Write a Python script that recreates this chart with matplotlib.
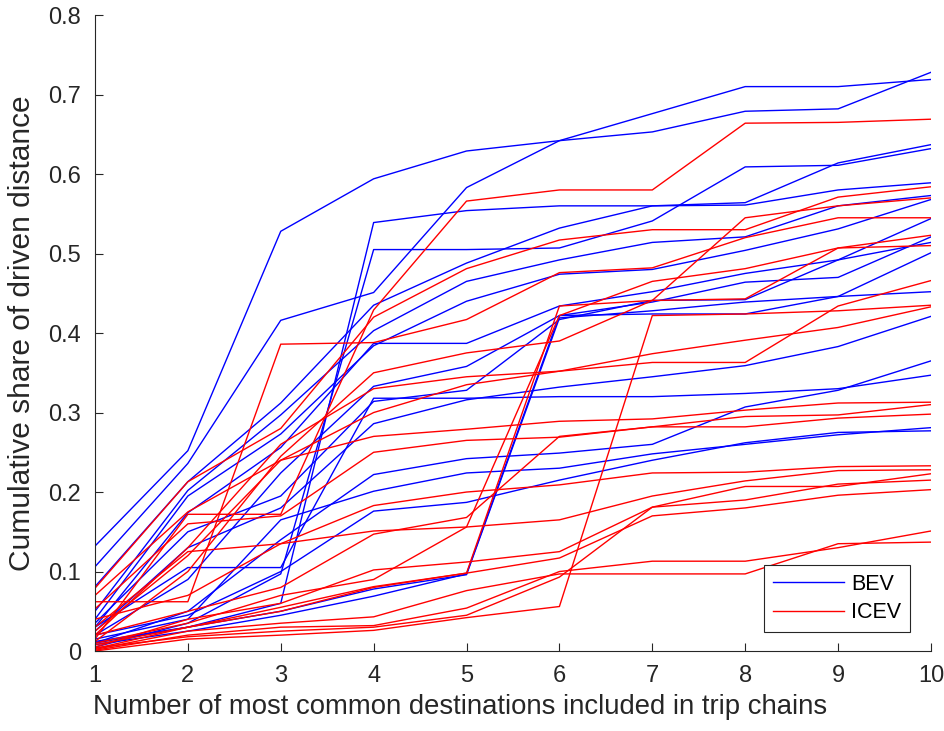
import matplotlib
matplotlib.use('agg')
import matplotlib.pyplot as plt

plt.rcParams['font.family'] = ['Liberation Sans', 'DejaVu Sans']

n_dest = [1, 2, 3, 4, 5, 6, 7, 8, 9, 10]

# cumulative share of driven distance per vehicle, battery electric
bev = [
    [0.132, 0.252, 0.528, 0.594, 0.629, 0.642, 0.653, 0.679, 0.682, 0.728],
    [0.106, 0.236, 0.416, 0.451, 0.583, 0.642, 0.676, 0.710, 0.710, 0.719],
    [0.010, 0.030, 0.060, 0.539, 0.554, 0.560, 0.560, 0.564, 0.614, 0.637],
    [0.005, 0.035, 0.097, 0.505, 0.505, 0.507, 0.541, 0.609, 0.611, 0.632],
    [0.081, 0.213, 0.312, 0.435, 0.488, 0.532, 0.560, 0.561, 0.580, 0.589],
    [0.050, 0.202, 0.297, 0.403, 0.465, 0.492, 0.514, 0.521, 0.560, 0.573],
    [0.040, 0.195, 0.273, 0.384, 0.440, 0.474, 0.480, 0.504, 0.531, 0.568],
    [0.030, 0.174, 0.256, 0.387, 0.387, 0.434, 0.452, 0.475, 0.492, 0.544],
    [0.020, 0.090, 0.224, 0.333, 0.358, 0.422, 0.439, 0.464, 0.470, 0.521],
    [0.035, 0.150, 0.195, 0.314, 0.328, 0.417, 0.441, 0.442, 0.492, 0.514],
    [0.012, 0.030, 0.050, 0.078, 0.096, 0.419, 0.428, 0.439, 0.446, 0.501],
    [0.008, 0.025, 0.045, 0.069, 0.097, 0.422, 0.424, 0.424, 0.446, 0.452],
    [0.025, 0.130, 0.180, 0.286, 0.316, 0.332, 0.345, 0.359, 0.383, 0.421],
    [0.030, 0.105, 0.105, 0.318, 0.318, 0.320, 0.320, 0.324, 0.330, 0.347],
    [0.010, 0.050, 0.140, 0.222, 0.242, 0.249, 0.260, 0.307, 0.328, 0.365],
    [0.015, 0.040, 0.165, 0.201, 0.224, 0.230, 0.248, 0.260, 0.272, 0.281],
    [0.020, 0.045, 0.100, 0.176, 0.187, 0.215, 0.240, 0.262, 0.275, 0.277],
]

# same for combustion engine vehicles
icev = [
    [0.015, 0.172, 0.172, 0.429, 0.566, 0.580, 0.580, 0.664, 0.665, 0.669],
    [0.062, 0.062, 0.386, 0.388, 0.417, 0.476, 0.482, 0.520, 0.545, 0.545],
    [0.079, 0.213, 0.280, 0.420, 0.481, 0.517, 0.530, 0.530, 0.571, 0.584],
    [0.012, 0.100, 0.245, 0.350, 0.375, 0.390, 0.441, 0.545, 0.560, 0.570],
    [0.008, 0.030, 0.050, 0.080, 0.098, 0.434, 0.441, 0.443, 0.507, 0.523],
    [0.010, 0.035, 0.070, 0.090, 0.156, 0.422, 0.465, 0.481, 0.507, 0.510],
    [0.020, 0.130, 0.260, 0.330, 0.345, 0.352, 0.374, 0.391, 0.407, 0.433],
    [0.025, 0.120, 0.240, 0.300, 0.335, 0.352, 0.363, 0.363, 0.434, 0.466],
    [0.000, 0.015, 0.020, 0.026, 0.042, 0.056, 0.422, 0.424, 0.428, 0.435],
    [0.070, 0.175, 0.240, 0.270, 0.279, 0.289, 0.292, 0.303, 0.312, 0.313],
    [0.053, 0.160, 0.170, 0.250, 0.265, 0.269, 0.282, 0.295, 0.297, 0.310],
    [0.030, 0.125, 0.135, 0.183, 0.200, 0.209, 0.224, 0.225, 0.232, 0.233],
    [0.040, 0.070, 0.135, 0.151, 0.156, 0.165, 0.195, 0.214, 0.227, 0.228],
    [0.020, 0.050, 0.080, 0.147, 0.168, 0.270, 0.282, 0.282, 0.293, 0.298],
    [0.005, 0.040, 0.060, 0.102, 0.112, 0.125, 0.181, 0.207, 0.207, 0.223],
    [0.003, 0.030, 0.055, 0.081, 0.098, 0.117, 0.170, 0.180, 0.196, 0.203],
    [0.002, 0.025, 0.035, 0.043, 0.076, 0.097, 0.097, 0.097, 0.135, 0.137],
    [0.001, 0.020, 0.030, 0.032, 0.054, 0.100, 0.113, 0.113, 0.130, 0.151],
    [0.004, 0.018, 0.025, 0.030, 0.045, 0.093, 0.181, 0.190, 0.210, 0.215],
]

fig = plt.figure(figsize=(9.44, 7.31), dpi=100)
ax = fig.add_axes([0.1006, 0.1094, 0.8856, 0.870])

for i, row in enumerate(bev):
    ax.plot(n_dest, row, color='#0000ff', lw=1.0, label='BEV' if i == 0 else None)
for i, row in enumerate(icev):
    ax.plot(n_dest, row, color='#ff0000', lw=1.0, label='ICEV' if i == 0 else None)

ax.set_xlim(1, 10)
ax.set_ylim(0, 0.8)
ax.set_xticks(n_dest)
ax.set_yticks([0, 0.1, 0.2, 0.3, 0.4, 0.5, 0.6, 0.7, 0.8])
ax.set_yticklabels(['0', '0.1', '0.2', '0.3', '0.4', '0.5', '0.6', '0.7', '0.8'])

for side in ['top', 'right']:
    ax.spines[side].set_visible(False)
for side in ['left', 'bottom']:
    ax.spines[side].set_color('#262626')
    ax.spines[side].set_linewidth(0.8)
ax.tick_params(direction='in', length=6, width=0.8, colors='#262626',
               labelsize=17)
ax.tick_params(axis='y', pad=10)
ax.tick_params(axis='x', pad=10)

ax.set_xlabel('Number of most common destinations included in trip chains',
              fontsize=19.8, color='#262626')
ax.xaxis.set_label_coords(0.437, -0.067)
ax.set_ylabel('Cumulative share of driven distance', fontsize=21.5,
              color='#262626')
ax.yaxis.set_label_coords(-0.070, 0.5)

leg = ax.legend(loc='lower right', fontsize=15.5, fancybox=False, framealpha=1,
                edgecolor='#262626', handlelength=3.3, handletextpad=0.35,
                borderpad=0.4, labelspacing=0.35, borderaxespad=0,
                bbox_to_anchor=(0.975, 0.030))
leg.get_frame().set_linewidth(0.8)

plt.savefig('out.png', dpi=100)
